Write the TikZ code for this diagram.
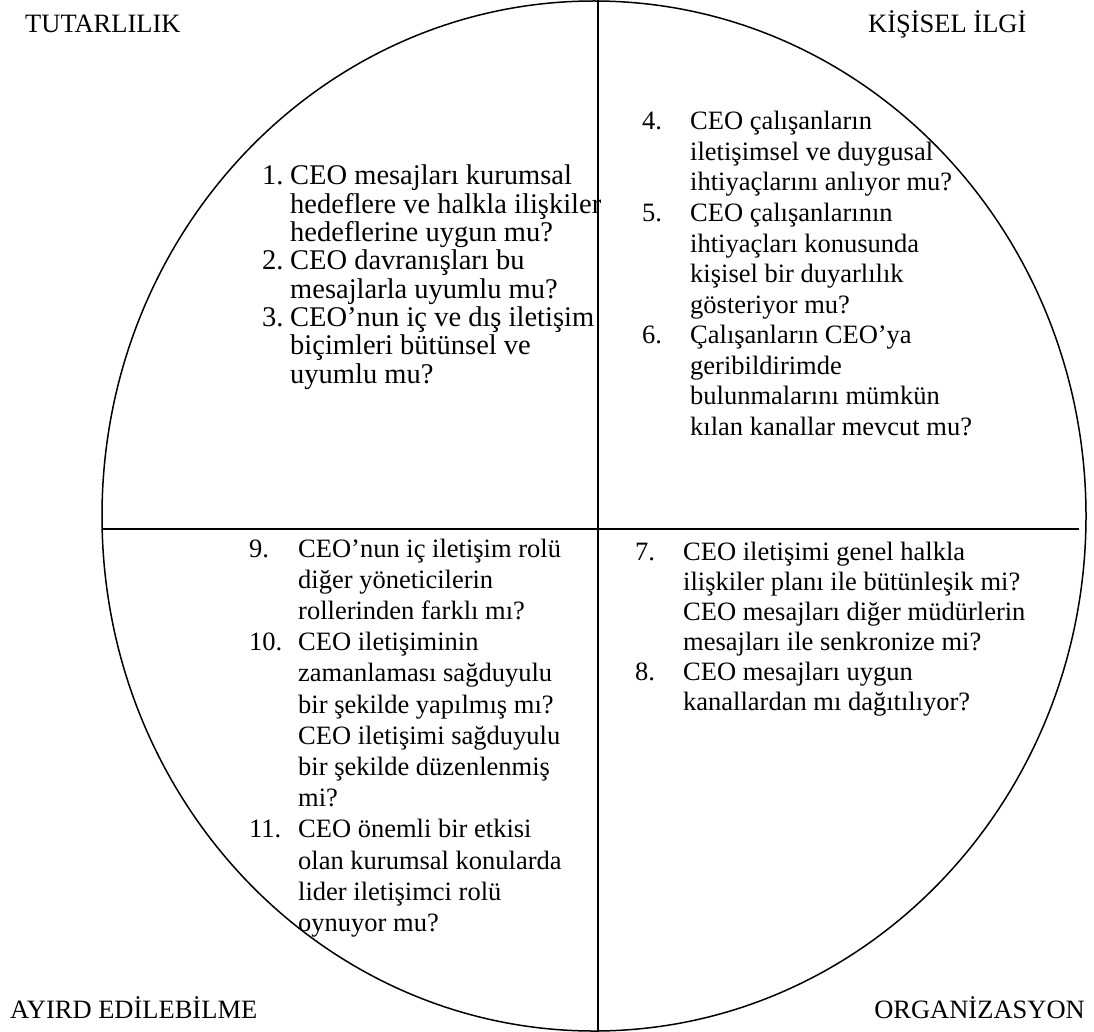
\documentclass[tikz,border=0pt]{standalone}
\usepackage{fontspec}
\setmainfont{Liberation Serif}
\begin{document}
\begin{tikzpicture}[x=1pt,y=-1pt,
  ln/.style={line width=1.5pt},
  corner/.style={inner sep=0pt, anchor=base west, font=\fontsize{26.5}{30}\selectfont},
  body/.style={inner sep=0pt, anchor=base west, font=\fontsize{26.5}{30}\selectfont},
  bodylg/.style={inner sep=0pt, anchor=base west, font=\fontsize{28.5}{30}\selectfont}]
\useasboundingbox[fill=white] (0,0) rectangle (1094,1032);

% circle and the two dividing lines
\coordinate (C) at (594,516);
\coordinate (top) at (598,0);
\coordinate (bot) at (598,1032);
\coordinate (L) at (102,529);
\coordinate (R) at (1079,529);
\draw[ln] (C) ellipse [x radius=492pt, y radius=515pt];
\draw[line width=1.3pt] (top) -- (bot);
\draw[ln] (L) -- (R);

% quadrant titles
\node[corner] (t1) at (25,33) {TUTARLILIK};
\node[corner] (t2) at (868,33) {KİŞİSEL İLGİ};
\node[corner] (t3) at (10,1018) {AYIRD EDİLEBİLME};
\node[corner, anchor=base east] (t4) at (1085,1018) {ORGANİZASYON};

% top-left questions
\foreach \n/\k in {1./0, 2./3, 3./5}
  \node[bodylg] (tln\k) at (262,{185+28.3*\k}) {\n};
\foreach \t [count=\i from 0] in {
  CEO mesajları kurumsal,
  hedeflere ve halkla ilişkiler,
  hedeflerine uygun mu?,
  CEO davranışları bu,
  mesajlarla uyumlu mu?,
  CEO’nun iç ve dış iletişim,
  biçimleri bütünsel ve,
  uyumlu mu?}
  \node[bodylg] (tl\i) at (290,{185+28.3*\i}) {\t};

% top-right questions
\foreach \n/\k in {4./0, 5./3, 6./7}
  \node[body] (trn\k) at (642,{130+30.5*\k}) {\n};
\foreach \t [count=\i from 0] in {
  CEO çalışanların,
  iletişimsel ve duygusal,
  ihtiyaçlarını anlıyor mu?,
  CEO çalışanlarının,
  ihtiyaçları konusunda,
  kişisel bir duyarlılık,
  gösteriyor mu?,
  Çalışanların CEO’ya,
  geribildirimde,
  bulunmalarını mümkün,
  kılan kanallar mevcut mu?}
  \node[body] (tr\i) at (690,{130+30.5*\i}) {\t};

% bottom-left questions
\foreach \n/\k in {9./0, 10./3, 11./9}
  \node[body] (bln\k) at (249,{557+31.2*\k}) {\n};
\foreach \t [count=\i from 0] in {
  CEO’nun iç iletişim rolü,
  diğer yöneticilerin,
  rollerinden farklı mı?,
  CEO iletişiminin,
  zamanlaması sağduyulu,
  bir şekilde yapılmış mı?,
  CEO iletişimi sağduyulu,
  bir şekilde düzenlenmiş,
  mi?,
  CEO önemli bir etkisi,
  olan kurumsal konularda,
  lider iletişimci rolü,
  oynuyor mu?}
  \node[body] (bl\i) at (298,{557+31.2*\i}) {\t};

% bottom-right questions
\foreach \n/\k in {7./0, 8./4}
  \node[body] (brn\k) at (635,{560+30*\k}) {\n};
\foreach \t [count=\i from 0] in {
  CEO iletişimi genel halkla,
  ilişkiler planı ile bütünleşik mi?,
  CEO mesajları diğer müdürlerin,
  mesajları ile senkronize mi?,
  CEO mesajları uygun,
  kanallardan mı dağıtılıyor?}
  \node[body] (br\i) at (683,{560+30*\i}) {\t};
\end{tikzpicture}
\end{document}
